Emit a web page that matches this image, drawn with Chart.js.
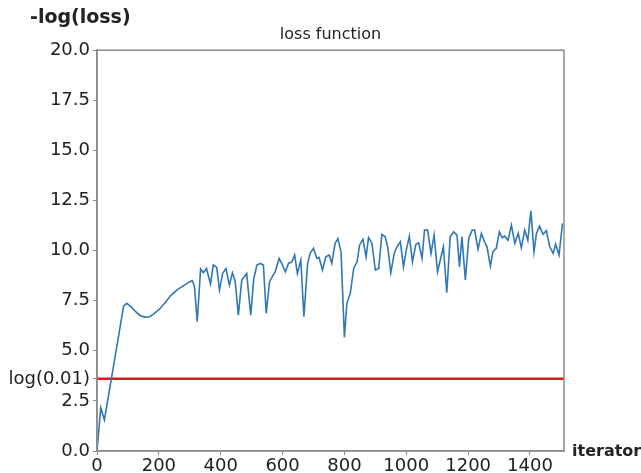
<!DOCTYPE html>
<html>
<head>
<meta charset="utf-8">
<script src="https://cdn.jsdelivr.net/npm/chart.js@4.4.1/dist/chart.umd.min.js"></script>
<style>
  html, body { margin: 0; padding: 0; background: #fff; }
  #wrap { width: 641px; height: 473px; }
</style>
</head>
<body>
<div id="wrap"><canvas id="chart" width="641" height="473"></canvas></div>
<script>
// iteration values
const iterations = [
  0, 12, 24, 86, 96, 110, 125, 140, 155, 170, 185, 200, 220, 240, 260, 280, 300, 308, 315, 324,
  335, 344, 354, 367, 376, 387, 396, 406, 417, 428, 438, 447, 457, 468, 476, 484, 497, 507, 517, 528,
  538, 547, 558, 567, 576, 589, 599, 609, 619, 630, 639, 648, 659, 669, 681, 689, 700, 711, 718, 729,
  740, 751, 759, 770, 779, 789, 800, 808, 819, 830, 841, 849, 860, 870, 878, 889, 900, 911, 921, 932,
  940, 950, 961, 970, 981, 991, 1000, 1010, 1020, 1031, 1040, 1051, 1059, 1069, 1080, 1090, 1101, 1110, 1120, 1131,
  1142, 1153, 1164, 1172, 1180, 1191, 1202, 1213, 1221, 1232, 1243, 1253, 1261, 1272, 1280, 1291, 1301, 1310, 1318, 1329,
  1340, 1351, 1362, 1372, 1383, 1393, 1403, 1413, 1421, 1431, 1442, 1453, 1464, 1475, 1483, 1494, 1505
];

// -log(loss)
const negLogLoss = [
  0.0, 2.15, 1.55, 7.23, 7.37, 7.2, 6.95, 6.75, 6.68, 6.7, 6.85, 7.05, 7.4, 7.78, 8.05, 8.25, 8.45, 8.5, 8.23, 6.45,
  9.08, 8.9, 9.11, 8.33, 9.28, 9.16, 8.03, 8.86, 9.11, 8.28, 8.89, 8.45, 6.78, 8.53, 8.7, 8.86, 6.78, 8.6, 9.28, 9.36,
  9.28, 6.87, 8.45, 8.7, 8.94, 9.61, 9.3, 8.94, 9.36, 9.44, 9.78, 8.86, 9.53, 6.7, 9.36, 9.86, 10.11, 9.61, 9.66, 9.03,
  9.69, 9.78, 9.36, 10.36, 10.6, 9.94, 5.67, 7.37, 7.87, 9.11, 9.44, 10.27, 10.56, 9.69, 10.66, 10.36, 9.03, 9.11, 10.81, 10.69,
  10.19, 8.89, 9.86, 10.19, 10.44, 9.19, 10.02, 10.72, 9.44, 10.31, 10.39, 9.61, 11.02, 11.02, 9.86, 10.77, 8.94, 9.53, 10.19, 7.9,
  10.69, 10.94, 10.77, 9.19, 10.69, 8.53, 10.61, 11.02, 11.02, 10.06, 10.86, 10.44, 10.19, 9.23, 9.94, 10.11, 10.94, 10.64, 10.72, 10.52,
  11.27, 10.36, 10.86, 10.14, 11.02, 10.52, 11.98, 9.94, 10.86, 11.22, 10.81, 10.99, 10.19, 9.86, 10.32, 9.78, 11.36
];

const thresholdValue = 3.6;
const thresholdLabel = 'log(0.01)';
const xMin = 0;
const xMax = 1510;
const yMin = 0;
const yMax = 20;

const spineColor = '#8c8c8c';
const textColor = '#222';
const font = "'DejaVu Sans', Verdana, sans-serif";

// box around the plot + the two axis names
const framePlugin = {
    id: 'frame',
    afterDraw(chart) {
        const { ctx, chartArea: a } = chart;
        ctx.save();
        ctx.strokeStyle = spineColor;
        ctx.lineWidth = 1.5;
        ctx.strokeRect(a.left, a.top, a.right - a.left, a.bottom - a.top);

        ctx.fillStyle = textColor;
        ctx.textBaseline = 'middle';
        ctx.textAlign = 'left';
        ctx.font = "bold 19px " + font;
        ctx.fillText('-log(loss)', 30, 18);
        ctx.font = "bold 16px " + font;
        ctx.fillText('iterator', 572, 452);
        ctx.restore();
    }
};

const ctx = document.getElementById('chart').getContext('2d');

new Chart(ctx, {
    type: 'line',
    data: {
        datasets: [
            {
                label: 'loss',
                data: iterations.map((it, i) => ({ x: it, y: negLogLoss[i] })),
                borderColor: '#2f78b4',
                borderWidth: 1.6,
                pointRadius: 0,
                tension: 0,
                fill: false
            },
            {
                label: thresholdLabel,
                data: [{ x: xMin, y: thresholdValue }, { x: xMax, y: thresholdValue }],
                borderColor: '#e8141b',
                borderWidth: 2.5,
                pointRadius: 0,
                fill: false
            }
        ]
    },
    options: {
        responsive: false,
        animation: false,
        layout: { padding: { top: 0, right: 77, bottom: 0, left: 0 } },
        plugins: {
            legend: { display: false },
            tooltip: { enabled: false },
            title: {
                display: true,
                text: 'loss function',
                fullSize: false,
                color: textColor,
                font: { family: font, size: 16, weight: 'normal' },
                padding: { top: 25, bottom: 6 }
            }
        },
        scales: {
            x: {
                type: 'linear',
                min: xMin,
                max: xMax,
                afterFit: s => { s.height = 22; },
                border: { display: true, color: spineColor, width: 1.5 },
                grid: { drawOnChartArea: false, drawTicks: true, tickLength: 4, color: spineColor },
                ticks: {
                    stepSize: 200,
                    includeBounds: false,
                    maxRotation: 0,
                    padding: 1,
                    color: textColor,
                    font: { family: font, size: 18 },
                    callback: v => String(v)
                }
            },
            y: {
                type: 'linear',
                min: yMin,
                max: yMax,
                afterFit: s => { s.width = 97; },
                afterBuildTicks: s => {
                    s.ticks.push({ value: thresholdValue });
                    s.ticks.sort((a, b) => a.value - b.value);
                },
                border: { display: true, color: spineColor, width: 1.5 },
                grid: { drawOnChartArea: false, drawTicks: true, tickLength: 4, color: spineColor },
                ticks: {
                    stepSize: 2.5,
                    autoSkip: false,
                    padding: 3,
                    color: textColor,
                    font: { family: font, size: 18 },
                    callback: v => (v === thresholdValue ? thresholdLabel : v.toFixed(1))
                }
            }
        }
    },
    plugins: [framePlugin]
});
</script>
</body>
</html>
